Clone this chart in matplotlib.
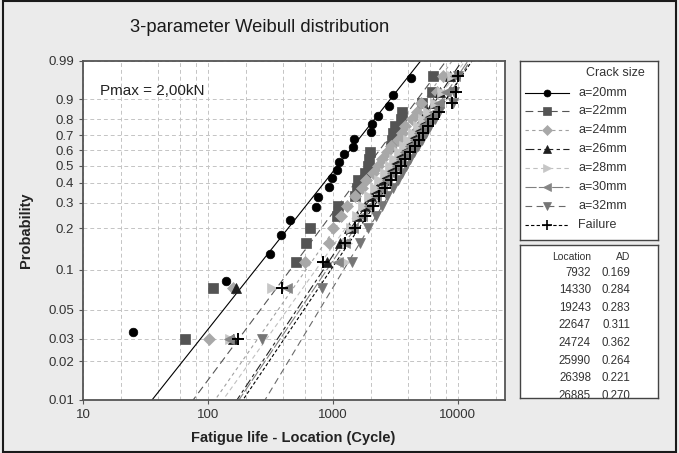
import numpy as np
import matplotlib
matplotlib.use('Agg')
import matplotlib.pyplot as plt
from matplotlib.lines import Line2D
from matplotlib.patches import Rectangle

plt.rcParams['font.family'] = ['Liberation Sans', 'DejaVu Sans']

# ---------------- data ----------------
series_names = ['a=20mm', 'a=22mm', 'a=24mm', 'a=26mm', 'a=28mm', 'a=30mm', 'a=32mm', 'Failure']

prob_n20 = [0.034, 0.083, 0.132, 0.181, 0.230, 0.279, 0.328, 0.377, 0.426, 0.475,
            0.525, 0.574, 0.623, 0.672, 0.721, 0.770, 0.819, 0.868, 0.917, 0.966]
prob_n23 = [0.030, 0.073, 0.115, 0.158, 0.201, 0.244, 0.286, 0.329, 0.372, 0.415, 0.457, 0.500,
            0.543, 0.586, 0.628, 0.671, 0.714, 0.756, 0.799, 0.842, 0.885, 0.927, 0.970]

life_a20 = [25, 139, 313, 384, 453, 730, 760, 929, 982, 1077, 1117, 1225, 1445, 1472,
            2014, 2051, 2291, 2805, 3020, 4207]
life_a22 = [65, 110, 510, 610, 655, 1080, 1100, 1500, 1560, 1590, 1800, 1900, 1940, 1980,
            2910, 2970, 3020, 3130, 3500, 3570, 5150, 6250, 6370]
life_a24 = [102, 160, 600, 930, 1000, 1150, 1300, 1500, 1700, 1850, 2100, 2300, 2450, 2700,
            2900, 3300, 3600, 3800, 4300, 4700, 5100, 6800, 7600]
life_a26 = [158, 168, 900, 1140, 1350, 1550, 1800, 2000, 2250, 2500, 2700, 2950, 3200, 3500,
            3750, 4100, 4400, 4800, 5200, 5700, 6300, 7200, 8700]
life_a28 = [150, 323, 1250, 1300, 1400, 1550, 1750, 1950, 2150, 2350, 2600, 2850, 3100, 3400,
            3700, 4000, 4400, 4800, 5300, 5800, 6500, 7500, 9000]
life_a30 = [147, 426, 1100, 1250, 1450, 1700, 1950, 2200, 2450, 2700, 2950, 3250, 3500, 3800,
            4150, 4500, 4900, 5300, 5800, 6400, 7100, 8100, 9500]
life_a32 = [269, 822, 1410, 1644, 1900, 2200, 2450, 2700, 3000, 3300, 3550, 3850, 4150, 4450,
            4800, 5150, 5550, 6000, 6500, 7100, 9100, 9300, 10000]
life_fail = [175, 389, 832, 1250, 1500, 1800, 2100, 2350, 2600, 2900, 3200, 3500, 3800, 4100,
             4500, 4900, 5300, 5800, 6300, 7000, 8900, 9700, 10000]

# fitted Weibull lines (shape, scale)
shape = [1.238, 1.315, 1.403, 1.478, 1.374, 1.452, 1.623, 1.452]
scale = [1465, 2513, 3020, 3830, 3745, 4200, 4863, 4523]

locations = ['7932', '14330', '19243', '22647', '24724', '25990', '26398', '26885']
ad_values = ['0.169', '0.284', '0.283', '0.311', '0.362', '0.264', '0.221', '0.270']

y_ticks = [0.01, 0.02, 0.03, 0.05, 0.1, 0.2, 0.3, 0.4, 0.5, 0.6, 0.7, 0.8, 0.9, 0.99]
y_ticklabels = ['0.01', '0.02', '0.03', '0.05', '0.1', '0.2', '0.3', '0.4', '0.5', '0.6',
                '0.7', '0.8', '0.9', '0.99']
x_ticks = [10, 100, 1000, 10000]
x_ticklabels = ['10', '100', '1000', '10000']

# ---------------- styles ----------------
lifes = [life_a20, life_a22, life_a24, life_a26, life_a28, life_a30, life_a32, life_fail]
probs = [prob_n20] + [prob_n23] * 7
markers = ['o', 's', 'D', '^', '>', '<', 'v', '+']
mcolors = ['#000000', '#545454', '#a8a8a8', '#1e1e1e', '#c6c6c6', '#858585', '#757575', '#000000']
msizes = [6.2, 6.6, 6.0, 7.2, 7.2, 7.2, 7.2, 8.5]
lcolors = ['#000000', '#555555', '#a0a0a0', '#222222', '#c0c0c0', '#808080', '#6a6a6a', '#000000']
lstyles = ['-', (0, (7, 4)), (0, (3, 3)), (0, (8, 3, 3, 3)), (0, (4, 3)), (0, (10, 2)),
           (0, (6, 4)), (0, (3, 2))]


def fwd(p):
    p = np.clip(np.asarray(p, dtype=float), 1e-9, 1 - 1e-9)
    return np.log(-np.log(1 - p))


def inv(w):
    return 1 - np.exp(-np.exp(np.asarray(w, dtype=float)))


W, H = 679, 453
fig = plt.figure(figsize=(6.79, 4.53), dpi=100)
fig.patch.set_facecolor('#ebebeb')
fig.add_artist(Rectangle((0.004, 0.003), 0.992, 0.994, transform=fig.transFigure,
                         fill=False, edgecolor='#1a1a1a', linewidth=1.5))

ax = fig.add_axes([83 / W, 53 / H, 422 / W, 339 / H])
ax.set_facecolor('white')
ax.set_xscale('log')
ax.set_yscale('function', functions=(fwd, inv))
ax.set_xlim(10, 23800)
ax.set_ylim(0.01, 0.99)

# fitted lines
wgrid = np.linspace(fwd(0.0095), fwd(0.995), 80)
for k in range(len(series_names)):
    xl = scale[k] * np.exp(wgrid / shape[k])
    ax.plot(xl, inv(wgrid), color=lcolors[k], linestyle=lstyles[k], linewidth=0.8, zorder=2)

# points
for k in range(len(series_names)):
    ax.plot(lifes[k], probs[k], linestyle='none', marker=markers[k], color=mcolors[k],
            markersize=msizes[k], markeredgewidth=1.4 if markers[k] == '+' else 0.5,
            zorder=3)

ax.set_yticks(y_ticks)
ax.set_yticklabels(y_ticklabels)
ax.set_xticks(x_ticks)
ax.set_xticklabels(x_ticklabels)
minor_x = [m * 10 ** d for d in range(1, 5) for m in (2, 4, 6, 8)]
ax.set_xticks([v for v in minor_x if v < 23800], minor=True)
ax.tick_params(axis='x', which='minor', length=0)
ax.tick_params(which='major', direction='out', length=3, color='#555555',
               labelsize=9.5, labelcolor='#333333')
ax.grid(True, which='both', axis='x', color='#c4c4c4', linestyle=(0, (4, 3)), linewidth=0.7)
ax.grid(True, which='major', axis='y', color='#c4c4c4', linestyle=(0, (4, 3)), linewidth=0.7)
ax.set_axisbelow(True)
for s in ax.spines.values():
    s.set_color('#555555')
    s.set_linewidth(1.3)

ax.text(0.04, 0.912, 'Pmax = 2,00kN', transform=ax.transAxes, fontsize=11,
        color='#222222', va='center', ha='left')

fig.text(260 / W, 1 - 28 / H, '3-parameter Weibull distribution',
         ha='center', va='center', fontsize=13.2, color='#1a1a1a')
fig.text(26 / W, (453 - 230) / H, 'Probability', rotation=90, ha='center', va='center',
         fontsize=10.5, fontweight='bold', color='#222222')
fig.text(293 / W, 1 - 438 / H, 'Fatigue life - Location (Cycle)', ha='center',
         va='center', fontsize=10.5, fontweight='bold', color='#222222')

# ---------------- legend box 1 ----------------
lx0, lx1, ly0, ly1 = 520, 658, 61, 240
lax = fig.add_axes([lx0 / W, 1 - ly1 / H, (lx1 - lx0) / W, (ly1 - ly0) / H])
lax.set_xlim(lx0, lx1)
lax.set_ylim(ly1, ly0)
lax.set_xticks([])
lax.set_yticks([])
lax.set_facecolor('white')
for s in lax.spines.values():
    s.set_color('#444444')
    s.set_linewidth(1.0)
lax.text(645, 73, 'Crack size', ha='right', va='center', fontsize=9, color='#333333')
for k in range(len(series_names)):
    yy = 92.5 + k * 18.9
    lax.add_line(Line2D([525, 569], [yy, yy], color=lcolors[k], linestyle=lstyles[k],
                        linewidth=0.8))
    lax.plot([547], [yy], marker=markers[k], color=mcolors[k], markersize=msizes[k] - 1.2,
             markeredgewidth=1.2 if markers[k] == '+' else 0.5, linestyle='none')
    lax.text(578, yy, series_names[k], ha='left', va='center', fontsize=9, color='#333333')

# ---------------- legend box 2 ----------------
bx0, bx1, by0, by1 = 520, 658, 245, 398
bax = fig.add_axes([bx0 / W, 1 - by1 / H, (bx1 - bx0) / W, (by1 - by0) / H])
bax.set_xlim(bx0, bx1)
bax.set_ylim(by1, by0)
bax.set_xticks([])
bax.set_yticks([])
bax.set_facecolor('white')
for s in bax.spines.values():
    s.set_color('#444444')
    s.set_linewidth(1.0)
bax.text(591, 256.5, 'Location', ha='right', va='center', fontsize=7.5, color='#333333')
bax.text(630, 256.5, 'AD', ha='right', va='center', fontsize=7.5, color='#333333')
for k in range(len(locations)):
    yy = 272.5 + k * 17.6
    bax.text(591, yy, locations[k], ha='right', va='center', fontsize=8.3,
             color='#333333', clip_on=True)
    bax.text(630, yy, ad_values[k], ha='right', va='center', fontsize=8.3,
             color='#333333', clip_on=True)

fig.savefig('out.png', dpi=100, facecolor=fig.get_facecolor())
